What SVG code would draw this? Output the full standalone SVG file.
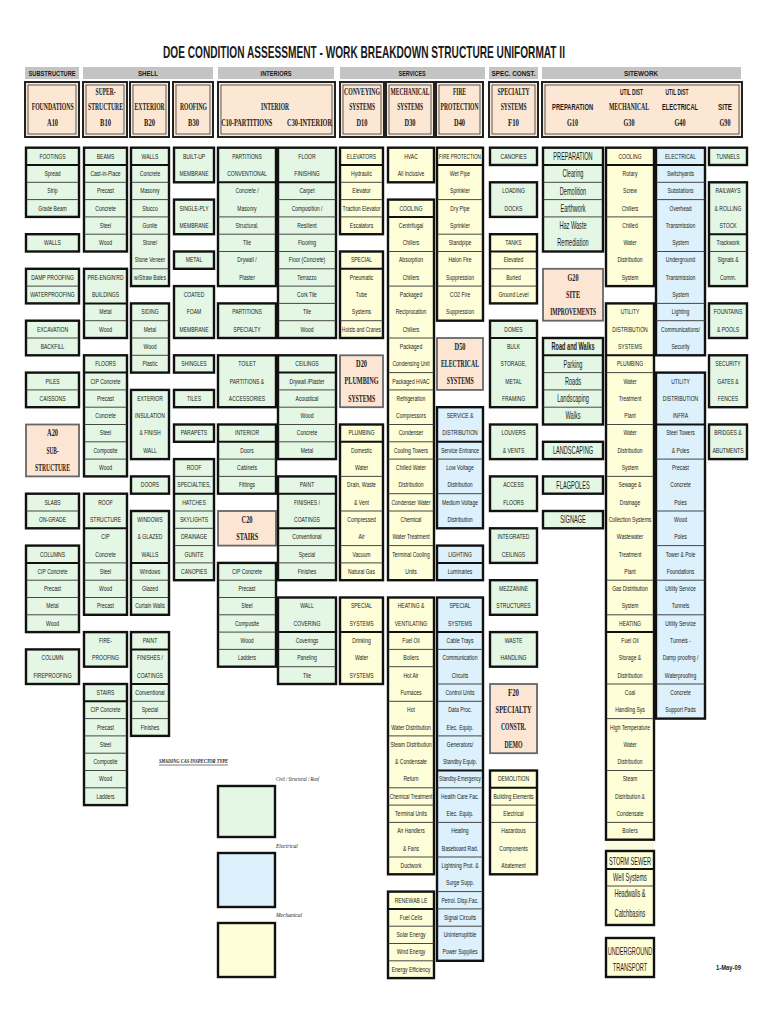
<svg xmlns="http://www.w3.org/2000/svg" width="768" height="1024" viewBox="0 0 768 1024">
<style>
.g{fill:#e4f7e4}.b{fill:#dcf1fb}.y{fill:#fefed8}.p{fill:#fce5d3}
.k{stroke:#111;stroke-width:2.4}
.pk{stroke:#666;stroke-width:1.8}
.s{stroke:#333;stroke-width:0.9;fill:none}
.d{stroke:#111;stroke-width:2;fill:none}
.hdr{fill:#fce6d4;stroke:#222;stroke-width:2}
.hin{fill:none;stroke:#333;stroke-width:0.8}
.cat{fill:#c4c4c4}
text{font-family:"Liberation Sans",Arial,sans-serif;fill:#1a1a1a}
.t{font-size:7px;text-anchor:middle;transform:scaleX(0.72)}
.L{font-size:10px;text-anchor:middle;transform:scaleX(0.56)}
.sf{font-family:"Liberation Serif","Times New Roman",serif;font-weight:bold;font-size:9.5px;text-anchor:middle;transform-box:fill-box;transform-origin:center;transform:scaleX(0.6)}
.hb{font-weight:bold;font-size:7.5px;text-anchor:middle;transform-box:fill-box;transform-origin:center;transform:scaleX(0.75)}
.hs{font-weight:bold;font-size:9.5px;text-anchor:middle;transform-box:fill-box;transform-origin:center;transform:scaleX(0.6)}
.ti{font-weight:bold;font-size:16px;text-anchor:middle;transform-box:fill-box;transform-origin:center;transform:scaleX(0.6)}
.it{font-family:"Liberation Serif","Times New Roman",serif;font-style:italic;font-size:5.5px}
</style>
<rect width="768" height="1024" fill="#fff"/>
<text class="ti" x="364" y="58" textLength="670" lengthAdjust="spacingAndGlyphs">DOE CONDITION ASSESSMENT - WORK BREAKDOWN STRUCTURE UNIFORMAT II</text>

<g id="categories">
<rect class="cat" x="25" y="67" width="54" height="12"/><text class="hb" x="52" y="76" textLength="62.7" lengthAdjust="spacingAndGlyphs">SUBSTRUCTURE</text>
<rect class="cat" x="83" y="67" width="130" height="12"/><text class="hb" x="148" y="76" textLength="26.7" lengthAdjust="spacingAndGlyphs">SHELL</text>
<rect class="cat" x="218" y="67" width="116" height="12"/><text class="hb" x="276" y="76" textLength="41.3" lengthAdjust="spacingAndGlyphs">INTERIORS</text>
<rect class="cat" x="340" y="67" width="145" height="12"/><text class="hb" x="412" y="76" textLength="36" lengthAdjust="spacingAndGlyphs">SERVICES</text>
<rect class="cat" x="489" y="67" width="49" height="12"/><text class="hb" x="513.5" y="76" textLength="58.7" lengthAdjust="spacingAndGlyphs">SPEC. CONST.</text>
<rect class="cat" x="542" y="67" width="199" height="12"/><text class="hb" x="641" y="76" textLength="45.3" lengthAdjust="spacingAndGlyphs">SITEWORK</text>
</g>

<g id="headers">
<g id="h-a10"><rect class="hdr" x="25" y="82" width="54" height="55"/><rect class="hin" x="28" y="85" width="48" height="49"/>
<text class="sf" x="52.5" y="110" textLength="70" lengthAdjust="spacingAndGlyphs">FOUNDATIONS</text><text class="sf" x="52.5" y="126" textLength="18.3" lengthAdjust="spacingAndGlyphs">A10</text></g>
<g id="h-b10"><rect class="hdr" x="83" y="82" width="44" height="55"/><rect class="hin" x="86" y="85" width="38" height="49"/>
<text class="sf" x="105.5" y="95" textLength="33.3" lengthAdjust="spacingAndGlyphs">SUPER-</text><text class="sf" x="105.5" y="110" textLength="58.3" lengthAdjust="spacingAndGlyphs">STRUCTURE</text><text class="sf" x="105.5" y="126" textLength="18.3" lengthAdjust="spacingAndGlyphs">B10</text></g>
<g id="h-b20"><rect class="hdr" x="130" y="82" width="39" height="55"/><rect class="hin" x="133" y="85" width="33" height="49"/>
<text class="sf" x="149.5" y="110" textLength="50" lengthAdjust="spacingAndGlyphs">EXTERIOR</text><text class="sf" x="149.5" y="126" textLength="18.3" lengthAdjust="spacingAndGlyphs">B20</text></g>
<g id="h-b30"><rect class="hdr" x="173" y="82" width="40" height="55"/><rect class="hin" x="176" y="85" width="34" height="49"/>
<text class="sf" x="193.5" y="110" textLength="45" lengthAdjust="spacingAndGlyphs">ROOFING</text><text class="sf" x="193.5" y="126" textLength="18.3" lengthAdjust="spacingAndGlyphs">B30</text></g>
<g id="h-c"><rect class="hdr" x="218" y="82" width="117" height="55"/><rect class="hin" x="221" y="85" width="111" height="49"/>
<text class="sf" x="275" y="110" textLength="46.7" lengthAdjust="spacingAndGlyphs">INTERIOR</text><text class="sf" x="246.5" y="126" textLength="85" lengthAdjust="spacingAndGlyphs">C10-PARTITIONS</text><text class="sf" x="309.5" y="126" textLength="75" lengthAdjust="spacingAndGlyphs">C30-INTERIOR</text></g>
<g id="h-d10"><rect class="hdr" x="340" y="82" width="44" height="55"/><rect class="hin" x="343" y="85" width="38" height="49"/>
<text class="sf" x="362" y="95" textLength="60" lengthAdjust="spacingAndGlyphs">CONVEYING</text><text class="sf" x="362" y="110" textLength="43.3" lengthAdjust="spacingAndGlyphs">SYSTEMS</text><text class="sf" x="362" y="126" textLength="18.3" lengthAdjust="spacingAndGlyphs">D10</text></g>
<g id="h-d30"><rect class="hdr" x="386" y="82" width="48" height="55"/><rect class="hin" x="389" y="85" width="42" height="49"/>
<text class="sf" x="410" y="95" textLength="65" lengthAdjust="spacingAndGlyphs">MECHANICAL</text><text class="sf" x="410" y="110" textLength="43.3" lengthAdjust="spacingAndGlyphs">SYSTEMS</text><text class="sf" x="410" y="126" textLength="18.3" lengthAdjust="spacingAndGlyphs">D30</text></g>
<g id="h-d40"><rect class="hdr" x="436" y="82" width="47" height="55"/><rect class="hin" x="439" y="85" width="41" height="49"/>
<text class="sf" x="459.5" y="95" textLength="21.7" lengthAdjust="spacingAndGlyphs">FIRE</text><text class="sf" x="459.5" y="110" textLength="63.3" lengthAdjust="spacingAndGlyphs">PROTECTION</text><text class="sf" x="459.5" y="126" textLength="18.3" lengthAdjust="spacingAndGlyphs">D40</text></g>
<g id="h-f10"><rect class="hdr" x="489" y="82" width="49" height="55"/><rect class="hin" x="492" y="85" width="43" height="49"/>
<text class="sf" x="513.5" y="95" textLength="53.3" lengthAdjust="spacingAndGlyphs">SPECIALTY</text><text class="sf" x="513.5" y="110" textLength="43.3" lengthAdjust="spacingAndGlyphs">SYSTEMS</text><text class="sf" x="513.5" y="126" textLength="18.3" lengthAdjust="spacingAndGlyphs">F10</text></g>
<g id="h-g"><rect class="hdr" x="542" y="82" width="200" height="55"/><rect class="hin" x="545" y="85" width="194" height="49"/>
<text class="hs" x="572.5" y="110" textLength="68.3" lengthAdjust="spacingAndGlyphs">PREPARATION</text><text class="sf" x="572.5" y="126" textLength="18.3" lengthAdjust="spacingAndGlyphs">G10</text>
<text class="hs" x="631.5" y="95" textLength="38.3" lengthAdjust="spacingAndGlyphs">UTIL DIST</text><text class="sf" x="629" y="110" textLength="66.7" lengthAdjust="spacingAndGlyphs">MECHANICAL</text><text class="sf" x="629" y="126" textLength="18.3" lengthAdjust="spacingAndGlyphs">G30</text>
<text class="hs" x="677" y="95" textLength="38.3" lengthAdjust="spacingAndGlyphs">UTIL DIST</text><text class="hs" x="680" y="110" textLength="60" lengthAdjust="spacingAndGlyphs">ELECTRICAL</text><text class="sf" x="680" y="126" textLength="18.3" lengthAdjust="spacingAndGlyphs">G40</text>
<text class="hs" x="725" y="110" textLength="23.3" lengthAdjust="spacingAndGlyphs">SITE</text><text class="sf" x="725" y="126" textLength="18.3" lengthAdjust="spacingAndGlyphs">G90</text></g>
</g>

<g id="connectors"></g>

<!-- Column A -->
<g transform="translate(52.5 0)">
<g id="a-footings"><rect class="g k" x="-26.5" y="147.7" width="53" height="69.2"/><path class="d" d="M-26.5 165h53"/><path class="s" d="M-26.5 182.3h53M-26.5 199.6h53"/>
<text class="t" y="158.7">FOOTINGS</text><text class="t" y="176">Spread</text><text class="t" y="193.3">Strip</text><text class="t" y="210.6">Grade Beam</text></g>
<g id="a-walls"><rect class="g k" x="-26.5" y="234.2" width="53" height="17.3"/><text class="t" y="245.2">WALLS</text></g>
<g id="a-damp"><rect class="g k" x="-26.5" y="268.8" width="53" height="34.6"/><path class="s" d="M-26.5 286.1h53"/><text class="t" y="279.8">DAMP PROOFING</text><text class="t" y="297.1">WATERPROOFING</text></g>
<g id="a-excavation"><rect class="g k" x="-26.5" y="320.7" width="53" height="34.6"/><path class="s" d="M-26.5 338h53"/><text class="t" y="331.7">EXCAVATION</text><text class="t" y="349">BACKFILL</text></g>
<g id="a-piles"><rect class="g k" x="-26.5" y="372.6" width="53" height="34.6"/><path class="s" d="M-26.5 389.9h53"/><text class="t" y="383.6">PILES</text><text class="t" y="400.9">CAISSONS</text></g>
<g id="a-a20"><rect class="p pk" x="-26.5" y="424.5" width="53" height="51.9"/><text class="sf" y="436.3" textLength="18.3" lengthAdjust="spacingAndGlyphs">A20</text><text class="sf" y="453.6" textLength="20" lengthAdjust="spacingAndGlyphs">SUB-</text><text class="sf" y="470.9" textLength="58.3" lengthAdjust="spacingAndGlyphs">STRUCTURE</text></g>
<g id="a-slabs"><rect class="g k" x="-26.5" y="493.7" width="53" height="34.6"/><path class="s" d="M-26.5 511h53"/><text class="t" y="504.7">SLABS</text><text class="t" y="522">ON-GRADE</text></g>
<g id="a-columns"><rect class="g k" x="-26.5" y="545.6" width="53" height="86.5"/><path class="d" d="M-26.5 562.9h53"/><path class="s" d="M-26.5 580.2h53M-26.5 597.5h53M-26.5 614.8h53"/>
<text class="t" y="556.6">COLUMNS</text><text class="t" y="573.9">CIP Concrete</text><text class="t" y="591.2">Precast</text><text class="t" y="608.5">Metal</text><text class="t" y="625.8">Wood</text></g>
<g id="a-colfire"><rect class="g k" x="-26.5" y="649.4" width="53" height="34.6"/><text class="t" y="660.4">COLUMN</text><text class="t" y="677.7">FIREPROOFING</text></g>
</g>

<!-- Column B -->
<g transform="translate(105.5 0)">
<g id="b-beams"><rect class="g k" x="-21.5" y="147.7" width="43" height="103.8"/><path class="d" d="M-21.5 165h43"/><path class="s" d="M-21.5 182.3h43M-21.5 199.6h43M-21.5 216.9h43M-21.5 234.2h43"/>
<text class="t" y="158.7">BEAMS</text><text class="t" y="176">Cast-in-Place</text><text class="t" y="193.3">Precast</text><text class="t" y="210.6">Concrete</text><text class="t" y="227.9">Steel</text><text class="t" y="245.2">Wood</text></g>
<g id="b-preeng"><rect class="g k" x="-21.5" y="268.8" width="43" height="69.2"/><path class="d" d="M-21.5 303.4h43"/><path class="s" d="M-21.5 320.7h43"/>
<text class="t" y="279.8">PRE-ENGIN'RD</text><text class="t" y="297.1">BUILDINGS</text><text class="t" y="314.4">Metal</text><text class="t" y="331.7">Wood</text></g>
<g id="b-floors"><rect class="g k" x="-21.5" y="355.3" width="43" height="121.1"/><path class="d" d="M-21.5 372.6h43"/><path class="s" d="M-21.5 389.9h43M-21.5 407.2h43M-21.5 424.5h43M-21.5 441.8h43M-21.5 459.1h43"/>
<text class="t" y="366.3">FLOORS</text><text class="t" y="383.6">CIP Concrete</text><text class="t" y="400.9">Precast</text><text class="t" y="418.2">Concrete</text><text class="t" y="435.5">Steel</text><text class="t" y="452.8">Composite</text><text class="t" y="470.1">Wood</text></g>
<g id="b-roofstructure"><rect class="g k" x="-21.5" y="493.7" width="43" height="121.1"/><path class="d" d="M-21.5 528.3h43"/><path class="s" d="M-21.5 562.9h43M-21.5 580.2h43M-21.5 597.5h43"/>
<text class="t" y="504.7">ROOF</text><text class="t" y="522">STRUCTURE</text><text class="t" y="539.3">CIP</text><text class="t" y="556.6">Concrete</text><text class="t" y="573.9">Steel</text><text class="t" y="591.2">Wood</text><text class="t" y="608.5">Precast</text></g>
<g id="b-fireproofing"><rect class="g k" x="-21.5" y="632.1" width="43" height="34.6"/><text class="t" y="643.1">FIRE-</text><text class="t" y="660.4">PROOFING</text></g>
<g id="b-stairs"><rect class="g k" x="-21.5" y="684" width="43" height="121.1"/><path class="d" d="M-21.5 701.3h43"/><path class="s" d="M-21.5 718.6h43M-21.5 735.9h43M-21.5 753.2h43M-21.5 770.5h43M-21.5 787.8h43"/>
<text class="t" y="695">STAIRS</text><text class="t" y="712.3">CIP Concrete</text><text class="t" y="729.6">Precast</text><text class="t" y="746.9">Steel</text><text class="t" y="764.2">Composite</text><text class="t" y="781.5">Wood</text><text class="t" y="798.8">Ladders</text></g>
</g>

<!-- Column C -->
<g transform="translate(150 0)">
<g id="c-walls"><rect class="g k" x="-19" y="147.7" width="38" height="138.4"/><path class="d" d="M-19 165h38"/><path class="s" d="M-19 182.3h38M-19 199.6h38M-19 216.9h38M-19 234.2h38M-19 268.8h38"/>
<text class="t" y="158.7">WALLS</text><text class="t" y="176">Concrete</text><text class="t" y="193.3">Masonry</text><text class="t" y="210.6">Stucco</text><text class="t" y="227.9">Gunite</text><text class="t" y="245.2">Stone/</text><text class="t" y="262.5">Stone Veneer</text><text class="t" y="279.8">w/Straw Bales</text></g>
<g id="c-siding"><rect class="g k" x="-19" y="303.4" width="38" height="69.2"/><path class="s" d="M-19 320.7h38M-19 338h38M-19 355.3h38"/>
<text class="t" y="314.4">SIDING</text><text class="t" y="331.7">Metal</text><text class="t" y="349">Wood</text><text class="t" y="366.3">Plastic</text></g>
<g id="c-eifs"><rect class="g k" x="-19" y="389.9" width="38" height="69.2"/>
<text class="t" y="400.9">EXTERIOR</text><text class="t" y="418.2">INSULATION</text><text class="t" y="435.5">&amp; FINISH</text><text class="t" y="452.8">WALL</text></g>
<g id="c-doors"><rect class="g k" x="-19" y="476.4" width="38" height="17.3"/><text class="t" y="487.4">DOORS</text></g>
<g id="c-windows"><rect class="g k" x="-19" y="511" width="38" height="103.8"/><path class="d" d="M-19 562.9h38"/><path class="s" d="M-19 580.2h38M-19 597.5h38"/>
<text class="t" y="522">WINDOWS</text><text class="t" y="539.3">&amp; GLAZED</text><text class="t" y="556.6">WALLS</text><text class="t" y="573.9">Windows</text><text class="t" y="591.2">Glazed</text><text class="t" y="608.5">Curtain Walls</text></g>
<g id="c-paint"><rect class="g k" x="-19" y="632.1" width="38" height="103.8"/><path class="d" d="M-19 649.4h38M-19 684h38"/><path class="s" d="M-19 701.3h38M-19 718.6h38"/>
<text class="t" y="643.1">PAINT</text><text class="t" y="660.4">FINISHES /</text><text class="t" y="677.7">COATINGS</text><text class="t" y="695">Conventional</text><text class="t" y="712.3">Special</text><text class="t" y="729.6">Finishes</text></g>
</g>

<!-- Column D -->
<g transform="translate(194 0)">
<g id="d-builtup"><rect class="g k" x="-20" y="147.7" width="40" height="34.6"/><text class="t" y="158.7">BUILT-UP</text><text class="t" y="176">MEMBRANE</text></g>
<g id="d-singleply"><rect class="g k" x="-20" y="199.6" width="40" height="34.6"/><text class="t" y="210.6">SINGLE-PLY</text><text class="t" y="227.9">MEMBRANE</text></g>
<g id="d-metal"><rect class="g k" x="-20" y="251.5" width="40" height="17.3"/><text class="t" y="262.5">METAL</text></g>
<g id="d-coated"><rect class="g k" x="-20" y="286.1" width="40" height="51.9"/><text class="t" y="297.1">COATED</text><text class="t" y="314.4">FOAM</text><text class="t" y="331.7">MEMBRANE</text></g>
<g id="d-shingles"><rect class="g k" x="-20" y="355.3" width="40" height="17.3"/><text class="t" y="366.3">SHINGLES</text></g>
<g id="d-tiles"><rect class="g k" x="-20" y="389.9" width="40" height="17.3"/><text class="t" y="400.9">TILES</text></g>
<g id="d-parapets"><rect class="g k" x="-20" y="424.5" width="40" height="17.3"/><text class="t" y="435.5">PARAPETS</text></g>
<g id="d-roofspec"><rect class="g k" x="-20" y="459.1" width="40" height="121.1"/><path class="d" d="M-20 493.7h40"/><path class="s" d="M-20 476.4h40M-20 511h40M-20 528.3h40M-20 545.6h40M-20 562.9h40"/>
<text class="t" y="470.1">ROOF</text><text class="t" y="487.4">SPECIALTIES,</text><text class="t" y="504.7">HATCHES</text><text class="t" y="522">SKYLIGHTS</text><text class="t" y="539.3">DRAINAGE</text><text class="t" y="556.6">GUNITE</text><text class="t" y="573.9">CANOPIES</text></g>
</g>

<!-- Column E -->
<g transform="translate(247 0)">
<g id="e-partconv"><rect class="g k" x="-29" y="147.7" width="58" height="138.4"/><path class="d" d="M-29 182.3h58"/><path class="s" d="M-29 216.9h58M-29 234.2h58M-29 251.5h58"/>
<text class="t" y="158.7">PARTITIONS</text><text class="t" y="176">CONVENTIONAL</text><text class="t" y="193.3">Concrete /</text><text class="t" y="210.6">Masonry</text><text class="t" y="227.9">Structural.</text><text class="t" y="245.2">Tile</text><text class="t" y="262.5">Drywall /</text><text class="t" y="279.8">Plaster</text></g>
<g id="e-partspec"><rect class="g k" x="-29" y="303.4" width="58" height="34.6"/><text class="t" y="314.4">PARTITIONS</text><text class="t" y="331.7">SPECIALTY</text></g>
<g id="e-toilet"><rect class="g k" x="-29" y="355.3" width="58" height="51.9"/><text class="t" y="366.3">TOILET</text><text class="t" y="383.6">PARTITIONS &amp;</text><text class="t" y="400.9">ACCESSORIES</text></g>
<g id="e-interior"><rect class="g k" x="-29" y="424.5" width="58" height="69.2"/><path class="d" d="M-29 441.8h58"/><path class="s" d="M-29 459.1h58M-29 476.4h58"/>
<text class="t" y="435.5">INTERIOR</text><text class="t" y="452.8">Doors</text><text class="t" y="470.1">Cabinets</text><text class="t" y="487.4">Fittings</text></g>
<g id="e-c20"><rect class="p pk" x="-29" y="511" width="58" height="34.6"/><text class="sf" y="522.8" textLength="18.3" lengthAdjust="spacingAndGlyphs">C20</text><text class="sf" y="540.1" textLength="36.7" lengthAdjust="spacingAndGlyphs">STAIRS</text></g>
<g id="e-stairs"><rect class="g k" x="-29" y="562.9" width="58" height="103.8"/><path class="s" d="M-29 580.2h58M-29 597.5h58M-29 614.8h58M-29 632.1h58M-29 649.4h58"/>
<text class="t" y="573.9">CIP Concrete</text><text class="t" y="591.2">Precast</text><text class="t" y="608.5">Steel</text><text class="t" y="625.8">Composite</text><text class="t" y="643.1">Wood</text><text class="t" y="660.4">Ladders</text></g>
</g>

<!-- Column F -->
<g transform="translate(307 0)">
<g id="f-floor"><rect class="g k" x="-29" y="147.7" width="58" height="190.3"/><path class="d" d="M-29 182.3h58"/><path class="s" d="M-29 199.6h58M-29 216.9h58M-29 234.2h58M-29 251.5h58M-29 268.8h58M-29 286.1h58M-29 303.4h58M-29 320.7h58"/>
<text class="t" y="158.7">FLOOR</text><text class="t" y="176">FINISHING</text><text class="t" y="193.3">Carpet</text><text class="t" y="210.6">Composition /</text><text class="t" y="227.9">Resilient</text><text class="t" y="245.2">Flooring</text><text class="t" y="262.5">Floor (Concrete)</text><text class="t" y="279.8">Terrazzo</text><text class="t" y="297.1">Cork Tile</text><text class="t" y="314.4">Tile</text><text class="t" y="331.7">Wood</text></g>
<g id="f-ceilings"><rect class="g k" x="-29" y="355.3" width="58" height="103.8"/><path class="d" d="M-29 372.6h58"/><path class="s" d="M-29 389.9h58M-29 407.2h58M-29 424.5h58M-29 441.8h58"/>
<text class="t" y="366.3">CEILINGS</text><text class="t" y="383.6">Drywall /Plaster</text><text class="t" y="400.9">Acoustical</text><text class="t" y="418.2">Wood</text><text class="t" y="435.5">Concrete</text><text class="t" y="452.8">Metal</text></g>
<g id="f-paint"><rect class="g k" x="-29" y="476.4" width="58" height="103.8"/><path class="d" d="M-29 493.7h58M-29 528.3h58"/><path class="s" d="M-29 545.6h58M-29 562.9h58"/>
<text class="t" y="487.4">PAINT</text><text class="t" y="504.7">FINISHES /</text><text class="t" y="522">COATINGS</text><text class="t" y="539.3">Conventional</text><text class="t" y="556.6">Special</text><text class="t" y="573.9">Finishes</text></g>
<g id="f-wallcov"><rect class="g k" x="-29" y="597.5" width="58" height="86.5"/><path class="d" d="M-29 632.1h58"/><path class="s" d="M-29 649.4h58M-29 666.7h58"/>
<text class="t" y="608.5">WALL</text><text class="t" y="625.8">COVERING</text><text class="t" y="643.1">Coverings</text><text class="t" y="660.4">Paneling</text><text class="t" y="677.7">Tile</text></g>
</g>

<!-- Column G -->
<g transform="translate(361.5 0)">
<g id="g-elevators"><rect class="y k" x="-21.5" y="147.7" width="43" height="86.5"/><path class="d" d="M-21.5 165h43"/><path class="s" d="M-21.5 182.3h43M-21.5 199.6h43M-21.5 216.9h43"/>
<text class="t" y="158.7">ELEVATORS</text><text class="t" y="176">Hydraulic</text><text class="t" y="193.3">Elevator</text><text class="t" y="210.6">Traction Elevator</text><text class="t" y="227.9">Escalators</text></g>
<g id="g-special"><rect class="y k" x="-21.5" y="251.5" width="43" height="86.5"/><path class="d" d="M-21.5 268.8h43"/><path class="s" d="M-21.5 320.7h43"/>
<text class="t" y="262.5">SPECIAL</text><text class="t" y="279.8">Pneumatic</text><text class="t" y="297.1">Tube</text><text class="t" y="314.4">Systems</text><text class="t" y="331.7" textLength="54" lengthAdjust="spacingAndGlyphs">Hoists and Cranes</text></g>
<g id="g-d20"><rect class="p pk" x="-21.5" y="355.3" width="43" height="51.9"/><text class="sf" y="367.1" textLength="18.3" lengthAdjust="spacingAndGlyphs">D20</text><text class="sf" y="384.4" textLength="56.7" lengthAdjust="spacingAndGlyphs">PLUMBING</text><text class="sf" y="401.7" textLength="45" lengthAdjust="spacingAndGlyphs">SYSTEMS</text></g>
<g id="g-plumbing"><rect class="y k" x="-21.5" y="424.5" width="43" height="155.7"/><path class="d" d="M-21.5 441.8h43"/><path class="s" d="M-21.5 476.4h43M-21.5 511h43M-21.5 545.6h43M-21.5 562.9h43"/>
<text class="t" y="435.5">PLUMBING</text><text class="t" y="452.8">Domestic</text><text class="t" y="470.1">Water</text><text class="t" y="487.4">Drain, Waste</text><text class="t" y="504.7">&amp; Vent</text><text class="t" y="522">Compressed</text><text class="t" y="539.3">Air</text><text class="t" y="556.6">Vacuum</text><text class="t" y="573.9">Natural Gas</text></g>
<g id="g-specsys"><rect class="y k" x="-21.5" y="597.5" width="43" height="86.5"/><path class="d" d="M-21.5 632.1h43"/>
<text class="t" y="608.5">SPECIAL</text><text class="t" y="625.8">SYSTEMS</text><text class="t" y="643.1">Drinking</text><text class="t" y="660.4">Water</text><text class="t" y="677.7">SYSTEMS</text></g>
</g>

<!-- Column H -->
<g transform="translate(411 0)">
<g id="h-hvac"><rect class="y k" x="-23" y="147.7" width="46" height="34.6"/><text class="t" y="158.7">HVAC</text><text class="t" y="176">All Inclusive</text></g>
<g id="h-cooling"><rect class="y k" x="-23" y="199.6" width="46" height="380.6"/><path class="d" d="M-23 216.9h46"/><path class="s" d="M-23 251.5h46M-23 286.1h46M-23 338h46M-23 372.6h46M-23 389.9h46M-23 424.5h46M-23 441.8h46M-23 459.1h46M-23 493.7h46M-23 511h46M-23 545.6h46"/>
<text class="t" y="210.6">COOLING</text><text class="t" y="227.9">Centrifugal</text><text class="t" y="245.2">Chillers</text><text class="t" y="262.5">Absorption</text><text class="t" y="279.8">Chillers</text><text class="t" y="297.1">Packaged</text><text class="t" y="314.4">Reciprocation</text><text class="t" y="331.7">Chillers</text><text class="t" y="349">Packaged</text><text class="t" y="366.3">Condensing Unit</text><text class="t" y="383.6">Packaged HVAC</text><text class="t" y="400.9">Refrigeration</text><text class="t" y="418.2">Compressors</text><text class="t" y="435.5">Condenser</text><text class="t" y="452.8">Cooling Towers</text><text class="t" y="470.1">Chilled Water</text><text class="t" y="487.4">Distribution</text><text class="t" y="504.7">Condenser Water</text><text class="t" y="522">Chemical</text><text class="t" y="539.3">Water Treatment</text><text class="t" y="556.6">Terminal Cooling</text><text class="t" y="573.9">Units</text></g>
<g id="h-heating"><rect class="y k" x="-23" y="597.5" width="46" height="276.8"/><path class="d" d="M-23 632.1h46"/><path class="s" d="M-23 649.4h46M-23 666.7h46M-23 701.3h46M-23 735.9h46M-23 787.8h46M-23 805.1h46M-23 822.4h46M-23 857h46"/>
<text class="t" y="608.5">HEATING &amp;</text><text class="t" y="625.8">VENTILATING</text><text class="t" y="643.1">Fuel Oil</text><text class="t" y="660.4">Boilers</text><text class="t" y="677.7">Hot Air</text><text class="t" y="695">Furnaces</text><text class="t" y="712.3">Hot</text><text class="t" y="729.6">Water Distribution</text><text class="t" y="746.9">Steam Distribution</text><text class="t" y="764.2">&amp; Condensate</text><text class="t" y="781.5">Return</text><text class="t" y="798.8" textLength="59" lengthAdjust="spacingAndGlyphs">Chemical Treatment</text><text class="t" y="816.1">Terminal Units</text><text class="t" y="833.4">Air Handlers</text><text class="t" y="850.7">&amp; Fans</text><text class="t" y="868">Ductwork</text></g>
<g id="h-renewable"><rect class="y k" x="-23" y="891.6" width="46" height="86.5"/><path class="d" d="M-23 908.9h46"/><path class="s" d="M-23 926.2h46M-23 943.5h46M-23 960.8h46"/>
<text class="t" y="902.6">RENEWAB LE</text><text class="t" y="919.9">Fuel Cells</text><text class="t" y="937.2">Solar Energy</text><text class="t" y="954.5">Wind Energy</text><text class="t" y="971.8">Energy Efficiency</text></g>
</g>

<!-- Column I -->
<g transform="translate(460 0)">
<g id="i-fire"><rect class="y k" x="-23" y="147.7" width="46" height="173"/><path class="d" d="M-23 165h46"/><path class="s" d="M-23 199.6h46M-23 234.2h46M-23 251.5h46M-23 286.1h46"/>
<text class="t" y="158.7" textLength="58" lengthAdjust="spacingAndGlyphs">FIRE PROTECTION</text><text class="t" y="176">Wet Pipe</text><text class="t" y="193.3">Sprinkler</text><text class="t" y="210.6">Dry Pipe</text><text class="t" y="227.9">Sprinkler</text><text class="t" y="245.2">Standpipe</text><text class="t" y="262.5">Halon Fire</text><text class="t" y="279.8">Suppression</text><text class="t" y="297.1">CO2 Fire</text><text class="t" y="314.4">Suppression</text></g>
<g id="i-d50"><rect class="p pk" x="-23" y="338" width="46" height="51.9"/><text class="sf" y="349.8" textLength="18.3" lengthAdjust="spacingAndGlyphs">D50</text><text class="sf" y="367.1" textLength="63.3" lengthAdjust="spacingAndGlyphs">ELECTRICAL</text><text class="sf" y="384.4" textLength="45" lengthAdjust="spacingAndGlyphs">SYSTEMS</text></g>
<g id="i-service"><rect class="b k" x="-23" y="407.2" width="46" height="121.1"/><path class="d" d="M-23 441.8h46"/><path class="s" d="M-23 459.1h46M-23 493.7h46"/>
<text class="t" y="418.2">SERVICE &amp;</text><text class="t" y="435.5">DISTRIBUTION</text><text class="t" y="452.8">Service Entrance</text><text class="t" y="470.1">Low Voltage</text><text class="t" y="487.4">Distribution</text><text class="t" y="504.7">Medium Voltage</text><text class="t" y="522">Distribution</text></g>
<g id="i-lighting"><rect class="b k" x="-23" y="545.6" width="46" height="34.6"/><path class="d" d="M-23 562.9h46"/><text class="t" y="556.6">LIGHTING</text><text class="t" y="573.9">Luminaries</text></g>
<g id="i-specsys"><rect class="b k" x="-23" y="597.5" width="46" height="363.3"/><path class="d" d="M-23 632.1h46M-23 770.5h46"/><path class="s" d="M-23 649.4h46M-23 684h46M-23 701.3h46M-23 735.9h46M-23 787.8h46M-23 822.4h46M-23 857h46M-23 891.6h46M-23 908.9h46M-23 926.2h46"/>
<text class="t" y="608.5">SPECIAL</text><text class="t" y="625.8">SYSTEMS</text><text class="t" y="643.1">Cable Trays</text><text class="t" y="660.4">Communication</text><text class="t" y="677.7">Circuits</text><text class="t" y="695">Control Units</text><text class="t" y="712.3">Data Proc.</text><text class="t" y="729.6">Elec. Equip.</text><text class="t" y="746.9">Generators/</text><text class="t" y="764.2">Standby Equip.</text><text class="t" y="781.5" textLength="58" lengthAdjust="spacingAndGlyphs">Standby-Emergency</text><text class="t" y="798.8">Health Care Fac.</text><text class="t" y="816.1">Elec. Equip.</text><text class="t" y="833.4">Heating</text><text class="t" y="850.7">Baseboard Rad.</text><text class="t" y="868">Lightning Prot. &amp;</text><text class="t" y="885.3">Surge Supp.</text><text class="t" y="902.6">Petrol. Disp.Fac.</text><text class="t" y="919.9">Signal Circuits</text><text class="t" y="937.2">Uninterruptible</text><text class="t" y="954.5">Power Supplies</text></g>
</g>

<!-- Column J -->
<g transform="translate(513.5 0)">
<g id="j-canopies"><rect class="g k" x="-23.5" y="147.7" width="47" height="17.3"/><text class="t" y="158.7">CANOPIES</text></g>
<g id="j-loading"><rect class="g k" x="-23.5" y="182.3" width="47" height="34.6"/><text class="t" y="193.3">LOADING</text><text class="t" y="210.6">DOCKS</text></g>
<g id="j-tanks"><rect class="y k" x="-23.5" y="234.2" width="47" height="69.2"/><path class="d" d="M-23.5 251.5h47"/><path class="s" d="M-23.5 268.8h47M-23.5 286.1h47"/>
<text class="t" y="245.2">TANKS</text><text class="t" y="262.5">Elevated</text><text class="t" y="279.8">Buried</text><text class="t" y="297.1">Ground Level</text></g>
<g id="j-domes"><rect class="g k" x="-23.5" y="320.7" width="47" height="86.5"/><path class="d" d="M-23.5 338h47"/>
<text class="t" y="331.7">DOMES</text><text class="t" y="349">BULK</text><text class="t" y="366.3">STORAGE,</text><text class="t" y="383.6">METAL</text><text class="t" y="400.9">FRAMING</text></g>
<g id="j-louvers"><rect class="g k" x="-23.5" y="424.5" width="47" height="34.6"/><text class="t" y="435.5">LOUVERS</text><text class="t" y="452.8">&amp; VENTS</text></g>
<g id="j-access"><rect class="g k" x="-23.5" y="476.4" width="47" height="34.6"/><text class="t" y="487.4">ACCESS</text><text class="t" y="504.7">FLOORS</text></g>
<g id="j-integrated"><rect class="g k" x="-23.5" y="528.3" width="47" height="34.6"/><text class="t" y="539.3">INTEGRATED</text><text class="t" y="556.6">CEILINGS</text></g>
<g id="j-mezzanine"><rect class="g k" x="-23.5" y="580.2" width="47" height="34.6"/><text class="t" y="591.2">MEZZANINE</text><text class="t" y="608.5">STRUCTURES</text></g>
<g id="j-waste"><rect class="g k" x="-23.5" y="632.1" width="47" height="34.6"/><text class="t" y="643.1">WASTE</text><text class="t" y="660.4">HANDLING</text></g>
<g id="j-f20"><rect class="p pk" x="-23.5" y="684" width="47" height="69.2"/><text class="sf" y="695.8" textLength="18.3" lengthAdjust="spacingAndGlyphs">F20</text><text class="sf" y="713.1" textLength="60" lengthAdjust="spacingAndGlyphs">SPECIALTY</text><text class="sf" y="730.4" textLength="41.7" lengthAdjust="spacingAndGlyphs">CONSTR.</text><text class="sf" y="747.7" textLength="30" lengthAdjust="spacingAndGlyphs">DEMO</text></g>
<g id="j-demolition"><rect class="y k" x="-23.5" y="770.5" width="47" height="103.8"/><path class="d" d="M-23.5 787.8h47"/><path class="s" d="M-23.5 805.1h47M-23.5 822.4h47"/>
<text class="t" y="781.5">DEMOLITION</text><text class="t" y="798.8">Building Elements</text><text class="t" y="816.1">Electrical</text><text class="t" y="833.4">Hazardous</text><text class="t" y="850.7">Components</text><text class="t" y="868">Abatement</text></g>
</g>

<!-- Column K -->
<g transform="translate(573 0)">
<g id="k-preparation"><rect class="g k" x="-30" y="147.7" width="60" height="103.8"/><path class="d" d="M-30 165h60"/><path class="s" d="M-30 182.3h60M-30 199.6h60M-30 216.9h60"/>
<text class="L" y="160">PREPARATION</text><text class="L" y="177.3">Clearing</text><text class="L" y="194.6">Demolition</text><text class="L" y="211.9">Earthwork</text><text class="L" y="229.2">Haz Waste</text><text class="L" y="246.5">Remediation</text></g>
<g id="k-g20"><rect class="p pk" x="-30" y="268.8" width="60" height="51.9"/><text class="sf" y="280.6" textLength="18.3" lengthAdjust="spacingAndGlyphs">G20</text><text class="sf" y="297.9" textLength="23.3" lengthAdjust="spacingAndGlyphs">SITE</text><text class="sf" y="315.2" textLength="76.7" lengthAdjust="spacingAndGlyphs">IMPROVEMENTS</text></g>
<g id="k-road"><rect class="g k" x="-30" y="338" width="60" height="86.5"/><path class="d" d="M-30 355.3h60"/><path class="s" d="M-30 372.6h60M-30 389.9h60M-30 407.2h60"/>
<text class="L" y="350.3" font-weight="bold">Road and Walks</text><text class="L" y="367.6">Parking</text><text class="L" y="384.9">Roads</text><text class="L" y="402.2">Landscaping</text><text class="L" y="419.5">Walks</text></g>
<g id="k-landscaping"><rect class="g k" x="-30" y="441.8" width="60" height="17.3"/><text class="L" y="454.1">LANDSCAPING</text></g>
<g id="k-flagpoles"><rect class="g k" x="-30" y="476.4" width="60" height="17.3"/><text class="L" y="488.7">FLAGPOLES</text></g>
<g id="k-signage"><rect class="g k" x="-30" y="511" width="60" height="17.3"/><text class="L" y="523.3">SIGNAGE</text></g>
</g>

<!-- Column L -->
<g transform="translate(630 0)">
<g id="l-cooling"><rect class="y k" x="-24" y="147.7" width="48" height="138.4"/><path class="d" d="M-24 165h48"/><path class="s" d="M-24 216.9h48"/>
<text class="t" y="158.7">COOLING</text><text class="t" y="176">Rotary</text><text class="t" y="193.3">Screw</text><text class="t" y="210.6">Chillers</text><text class="t" y="227.9">Chilled</text><text class="t" y="245.2">Water</text><text class="t" y="262.5">Distribution</text><text class="t" y="279.8">System</text></g>
<g id="l-utility"><rect class="y k" x="-24" y="303.4" width="48" height="536.3"/><path class="d" d="M-24 355.3h48M-24 632.1h48"/><path class="s" d="M-24 372.6h48M-24 424.5h48M-24 476.4h48M-24 580.2h48M-24 614.8h48M-24 684h48M-24 718.6h48M-24 770.5h48M-24 822.4h48"/>
<text class="t" y="314.4">UTILITY</text><text class="t" y="331.7">DISTRIBUTION</text><text class="t" y="349">SYSTEMS</text><text class="t" y="366.3">PLUMBING</text><text class="t" y="383.6">Water</text><text class="t" y="400.9">Treatment</text><text class="t" y="418.2">Plant</text><text class="t" y="435.5">Water</text><text class="t" y="452.8">Distribution</text><text class="t" y="470.1">System</text><text class="t" y="487.4">Sewage &amp;</text><text class="t" y="504.7">Drainage</text><text class="t" y="522">Collection Systems</text><text class="t" y="539.3">Wastewater</text><text class="t" y="556.6">Treatment</text><text class="t" y="573.9">Plant</text><text class="t" y="591.2">Gas Distribution</text><text class="t" y="608.5">System</text><text class="t" y="625.8">HEATING</text><text class="t" y="643.1">Fuel Oil</text><text class="t" y="660.4">Storage &amp;</text><text class="t" y="677.7">Distribution</text><text class="t" y="695">Coal</text><text class="t" y="712.3">Handling Sys</text><text class="t" y="729.6">High Temperature</text><text class="t" y="746.9">Water</text><text class="t" y="764.2">Distribution</text><text class="t" y="781.5">Steam</text><text class="t" y="798.8">Distribution &amp;</text><text class="t" y="816.1">Condensate</text><text class="t" y="833.4">Boilers</text></g>
<rect x="-24" y="841" width="48" height="10" fill="#fbfbe0"/>
<g id="l-storm"><rect class="y k" x="-24" y="851" width="48" height="74"/><path class="d" d="M-24 869h48"/><path class="s" d="M-24 886h48"/>
<text class="L" y="865">STORM SEWER</text><text class="L" y="881.5">Well Systems</text><text class="L" y="897">Headwalls &amp;</text><text class="L" y="917">Catchbasins</text></g>
<g id="l-underground"><rect class="y k" x="-24" y="938" width="48" height="39"/><text class="L" y="955">UNDERGROUND</text><text class="L" y="971">TRANSPORT</text></g>
</g>

<!-- Column M -->
<g transform="translate(680.5 0)">
<g id="m-electrical"><rect class="b k" x="-24.5" y="147.7" width="49" height="207.6"/><path class="d" d="M-24.5 165h49"/><path class="s" d="M-24.5 182.3h49M-24.5 199.6h49M-24.5 251.5h49M-24.5 303.4h49M-24.5 320.7h49"/>
<text class="t" y="158.7">ELECTRICAL</text><text class="t" y="176">Switchyards</text><text class="t" y="193.3">Substations</text><text class="t" y="210.6">Overhead</text><text class="t" y="227.9">Transmission</text><text class="t" y="245.2">System</text><text class="t" y="262.5">Underground</text><text class="t" y="279.8">Transmission</text><text class="t" y="297.1">System</text><text class="t" y="314.4">Lighting</text><text class="t" y="331.7">Communications/</text><text class="t" y="349">Security</text></g>
<g id="m-infra"><rect class="b k" x="-24.5" y="372.6" width="49" height="346"/><path class="d" d="M-24.5 424.5h49"/><path class="s" d="M-24.5 459.1h49M-24.5 511h49M-24.5 545.6h49M-24.5 580.2h49M-24.5 614.8h49M-24.5 684h49"/>
<text class="t" y="383.6">UTILITY</text><text class="t" y="400.9">DISTRIBUTION</text><text class="t" y="418.2">INFRA</text><text class="t" y="435.5">Steel Towers</text><text class="t" y="452.8">&amp; Poles</text><text class="t" y="470.1">Precast</text><text class="t" y="487.4">Concrete</text><text class="t" y="504.7">Poles</text><text class="t" y="522">Wood</text><text class="t" y="539.3">Poles</text><text class="t" y="556.6">Tower &amp; Pole</text><text class="t" y="573.9">Foundations</text><text class="t" y="591.2">Utility Service</text><text class="t" y="608.5">Tunnels</text><text class="t" y="625.8">Utility Service</text><text class="t" y="643.1">Tunnels -</text><text class="t" y="660.4">Damp proofing /</text><text class="t" y="677.7">Waterproofing</text><text class="t" y="695">Concrete</text><text class="t" y="712.3">Support Pads</text></g>
</g>

<!-- Column N -->
<g transform="translate(728 0)">
<g id="n-tunnels"><rect class="g k" x="-19" y="147.7" width="38" height="17.3"/><text class="t" y="158.7">TUNNELS</text></g>
<g id="n-railways"><rect class="g k" x="-19" y="182.3" width="38" height="103.8"/><path class="d" d="M-19 234.2h38"/><path class="s" d="M-19 251.5h38"/>
<text class="t" y="193.3">RAILWAYS</text><text class="t" y="210.6">&amp; ROLLING</text><text class="t" y="227.9">STOCK</text><text class="t" y="245.2">Trackwork</text><text class="t" y="262.5">Signals &amp;</text><text class="t" y="279.8">Comm.</text></g>
<g id="n-fountains"><rect class="g k" x="-19" y="303.4" width="38" height="34.6"/><text class="t" y="314.4">FOUNTAINS</text><text class="t" y="331.7">&amp; POOLS</text></g>
<g id="n-security"><rect class="g k" x="-19" y="355.3" width="38" height="51.9"/><text class="t" y="366.3">SECURITY</text><text class="t" y="383.6">GATES &amp;</text><text class="t" y="400.9">FENCES</text></g>
<g id="n-bridges"><rect class="g k" x="-19" y="424.5" width="38" height="34.6"/><text class="t" y="435.5">BRIDGES &amp;</text><text class="t" y="452.8">ABUTMENTS</text></g>
</g>

<g id="legend">
<text class="it" x="159" y="763" font-weight="bold" textLength="69" lengthAdjust="spacingAndGlyphs">SHADING CAS INSPECTOR TYPE</text>
<path d="M159 765h69" stroke="#222" stroke-width="0.6"/>
<rect class="g k" x="218" y="786" width="57" height="51"/>
<rect class="b k" x="218" y="853" width="57" height="54"/>
<rect class="y k" x="218" y="923" width="57" height="54"/>
<text class="it" x="276" y="781" textLength="43" lengthAdjust="spacingAndGlyphs">Civil / Structural / Roof</text>
<text class="it" x="276" y="848">Electrical</text>
<text class="it" x="276" y="917">Mechanical</text>
</g>
<text x="741" y="970" font-weight="bold" font-size="8" text-anchor="end" textLength="25" lengthAdjust="spacingAndGlyphs">1-May-09</text>
</svg>
